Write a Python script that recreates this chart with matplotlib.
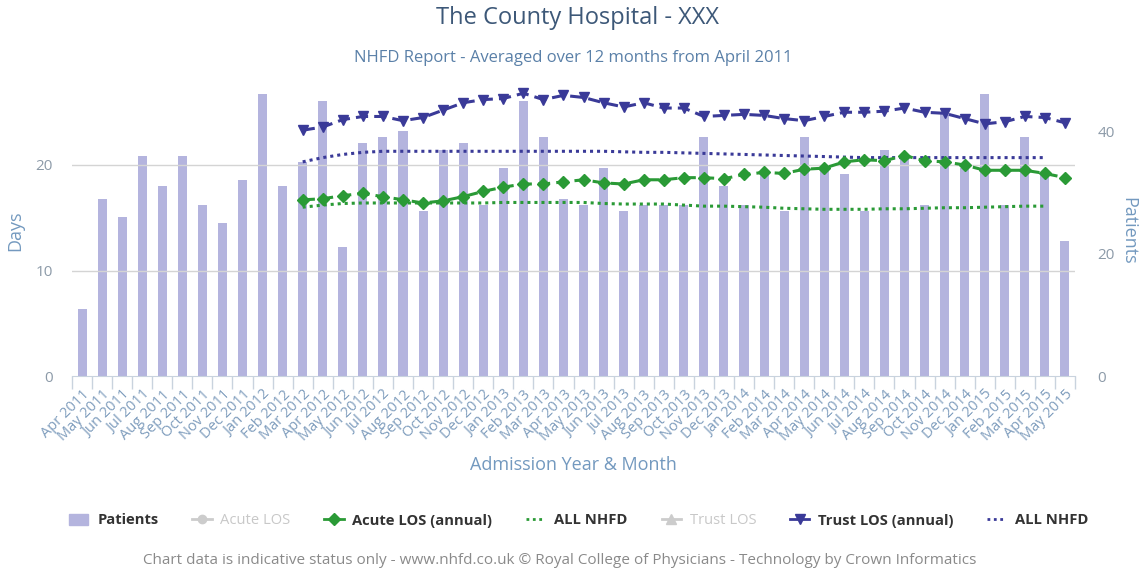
import matplotlib
matplotlib.use("Agg")
import matplotlib.pyplot as plt
from matplotlib.lines import Line2D
from matplotlib.patches import Patch
import numpy as np

plt.rcParams['font.family'] = ['Open Sans', 'DejaVu Sans']

months = ["Apr 2011", "May 2011", "Jun 2011", "Jul 2011", "Aug 2011", "Sep 2011", "Oct 2011",
          "Nov 2011", "Dec 2011", "Jan 2012", "Feb 2012", "Mar 2012", "Apr 2012", "May 2012",
          "Jun 2012", "Jul 2012", "Aug 2012", "Sep 2012", "Oct 2012", "Nov 2012", "Dec 2012",
          "Jan 2013", "Feb 2013", "Mar 2013", "Apr 2013", "May 2013", "Jun 2013", "Jul 2013",
          "Aug 2013", "Sep 2013", "Oct 2013", "Nov 2013", "Dec 2013", "Jan 2014", "Feb 2014",
          "Mar 2014", "Apr 2014", "May 2014", "Jun 2014", "Jul 2014", "Aug 2014", "Sep 2014",
          "Oct 2014", "Nov 2014", "Dec 2014", "Jan 2015", "Feb 2015", "Mar 2015", "Apr 2015",
          "May 2015"]

patients = [11, 29, 26, 36, 31, 36, 28, 25, 32, 46, 31, 35, 45, 21, 38, 39, 40, 27, 37, 38,
            28, 34, 45, 39, 29, 28, 34, 27, 28, 28, 28, 39, 31, 28, 33, 27, 39, 34, 33, 27,
            37, 36, 28, 43, 34, 46, 28, 39, 33, 22]

# annual series start at Mar 2012 (index 11)
acute_los_annual = [16.7, 16.8, 17.1, 17.3, 17.0, 16.7, 16.4, 16.6, 17.0, 17.5, 17.9, 18.2,
                    18.2, 18.4, 18.6, 18.3, 18.2, 18.6, 18.6, 18.8, 18.8, 18.7, 19.1, 19.3,
                    19.2, 19.6, 19.7, 20.3, 20.5, 20.4, 20.9, 20.4, 20.3, 20.0, 19.5, 19.5,
                    19.5, 19.2, 18.8]
trust_los_annual = [23.3, 23.6, 24.3, 24.6, 24.6, 24.2, 24.5, 25.2, 25.9, 26.2, 26.3, 26.8,
                    26.2, 26.6, 26.4, 25.9, 25.5, 25.9, 25.4, 25.4, 24.6, 24.7, 24.8, 24.7,
                    24.4, 24.2, 24.6, 25.0, 25.0, 25.1, 25.4, 25.0, 24.9, 24.4, 23.9, 24.1,
                    24.6, 24.5, 24.0]
# ALL NHFD series from Mar 2012 to Apr 2015
nhfd_acute = [16.0, 16.2, 16.35, 16.4, 16.4, 16.4, 16.4, 16.4, 16.4, 16.4, 16.45, 16.45,
              16.45, 16.45, 16.45, 16.35, 16.3, 16.3, 16.3, 16.2, 16.1, 16.1, 16.05, 16.0,
              15.9, 15.85, 15.8, 15.8, 15.8, 15.85, 15.85, 15.9, 15.95, 15.95, 16.0, 16.05,
              16.1, 16.1]
nhfd_trust = [20.3, 20.7, 21.0, 21.2, 21.3, 21.3, 21.3, 21.3, 21.3, 21.3, 21.3, 21.3,
              21.3, 21.3, 21.3, 21.3, 21.25, 21.2, 21.2, 21.15, 21.1, 21.05, 21.0, 20.95,
              20.9, 20.85, 20.8, 20.75, 20.7, 20.7, 20.7, 20.7, 20.7, 20.7, 20.7, 20.7,
              20.7, 20.7]

start_annual = 11

GREEN = "#2a9a36"
PURPLE = "#3a3a98"
BAR = "#b4b4de"
TITLE_C = "#3d5878"
SUB_C = "#5a80a8"
AXT_C = "#7399bf"
TICK_C = "#8c9aa8"

fig = plt.figure(figsize=(11.47, 5.71), dpi=100)
ax = fig.add_axes([72/1147, 195/571, (1075-72)/1147, (376-85)/571])
ax2 = ax.twinx()

x = np.arange(len(months))
x_ann = x[start_annual:start_annual + len(acute_los_annual)]
x_nhfd = x[start_annual:start_annual + len(nhfd_acute)]

ax2.bar(x, patients, width=0.45, color=BAR, zorder=1)
ax2.set_ylim(0, (376-85)/6.12)
ax.set_ylim(0, (376-85)/10.55)
ax.set_xlim(-0.5, len(months) - 0.5)

# put lines axis above bars
ax.set_zorder(ax2.get_zorder() + 1)
ax.patch.set_visible(False)

ax.plot(x_ann, acute_los_annual, color=GREEN, ls=(0, (4, 2)), lw=2.2, marker='D', ms=6, zorder=4)
ax.plot(x_nhfd, nhfd_acute, color=GREEN, ls=(0, (1, 1.3)), lw=2.2, zorder=3)
ax.plot(x_ann, trust_los_annual, color=PURPLE, ls=(0, (4, 2)), lw=2.2, marker='v', ms=7.5, zorder=4)
ax.plot(x_nhfd, nhfd_trust, color=PURPLE, ls=(0, (1, 1.3)), lw=2.2, zorder=3)

# grid
ax.set_yticks([0, 10, 20])
for yv in [10, 20]:
    ax.axhline(yv, color="#d4d4d4", lw=1, zorder=0)
ax2.set_yticks([0, 20, 40])

for a in (ax, ax2):
    for s in a.spines.values():
        s.set_visible(False)
ax.spines['bottom'].set_visible(True)
ax.spines['bottom'].set_color("#c9d3de")

ax.tick_params(axis='y', length=0, labelsize=11, labelcolor=TICK_C, pad=14)
ax2.tick_params(axis='y', length=0, labelsize=11, labelcolor=TICK_C, pad=16)

ax.set_xticks(x)
ax.set_xticklabels(months, rotation=45, ha='right', rotation_mode='anchor',
                   fontsize=10.5, color="#7f9dbd")
ax.tick_params(axis='x', which='major', length=0, pad=8)
ax.set_xticks(np.arange(-0.5, len(months), 1), minor=True)
ax.tick_params(axis='x', which='minor', length=9, color="#c9d3de", width=1)

ax.set_ylabel("Days", fontsize=13, color=AXT_C, labelpad=8)
ax2.set_ylabel("Patients", fontsize=13, color=AXT_C, rotation=270, labelpad=16)
fig.text(573/1147, 1 - 465/571, "Admission Year & Month", fontsize=13, color=AXT_C,
         ha='center', va='center')

fig.text(577/1147, 1 - 18/571, "The County Hospital - XXX", fontsize=17, color=TITLE_C,
         ha='center', va='center')
fig.text(573/1147, 1 - 58/571, "NHFD Report - Averaged over 12 months from April 2011",
         fontsize=12, color=SUB_C, ha='center', va='center')

handles = [
    Patch(color=BAR),
    Line2D([], [], color="#cccccc", marker='o', ls='-', lw=2, ms=6),
    Line2D([], [], color=GREEN, marker='D', ls='-', lw=2, ms=6),
    Line2D([], [], color=GREEN, ls=(0, (1, 1.3)), lw=2),
    Line2D([], [], color="#cccccc", marker='^', ls='-', lw=2, ms=7),
    Line2D([], [], color=PURPLE, marker='v', ls='-', lw=2, ms=7),
    Line2D([], [], color=PURPLE, ls=(0, (1, 1.3)), lw=2),
]
labels = ["Patients", "Acute LOS", "Acute LOS (annual)", "ALL NHFD", "Trust LOS",
          "Trust LOS (annual)", "ALL NHFD"]
leg = fig.legend(handles, labels, loc='center', bbox_to_anchor=(579/1147, 1 - 521/571),
                 ncol=7, frameon=False, fontsize=10.6, handlelength=1.3, columnspacing=2.3,
                 handletextpad=0.6)
for t, lab in zip(leg.get_texts(), labels):
    if lab in ("Acute LOS", "Trust LOS"):
        t.set_color("#c8c8c8")
    else:
        t.set_color("#333333")
        t.set_fontweight('bold')

fig.text(560/1147, 1 - 560/571,
         "Chart data is indicative status only - www.nhfd.co.uk \u00a9 Royal College of Physicians - Technology by Crown Informatics",
         fontsize=11, color="#8a8a8a", ha='center', va='center')

fig.savefig("out.png", dpi=100)
